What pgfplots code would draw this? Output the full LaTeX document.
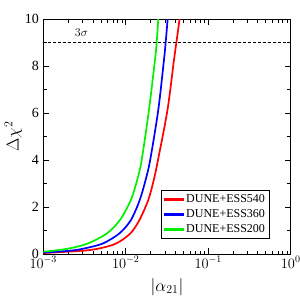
\documentclass[border=0pt]{standalone}
\usepackage{pgfplots}
\pgfplotsset{compat=1.18}
\usepackage{fontspec}
\setmainfont{Liberation Serif}
\definecolor{cred}{RGB}{255,0,0}
\definecolor{cblue}{RGB}{0,0,255}
\definecolor{cgreen}{RGB}{0,240,0}
\begin{document}
\begin{tikzpicture}
\useasboundingbox (-43.3pt,-46pt) rectangle (256.7pt,254pt);
\begin{axis}[
  at={(0,0)}, anchor=south west,
  width=247.4pt, height=234.7pt, scale only axis,
  xmode=log, xmin=1e-3, xmax=1, ymin=0, ymax=10,
  xtick={1e-3,1e-2,1e-1,1}, xticklabels={$10^{-3}$,$10^{-2}$,$10^{-1}$,$10^{0}$},
  ytick={0,2,4,6,8,10}, minor ytick={1,3,5,7,9},
  tick align=inside, xtick pos=both, ytick pos=both,
  major tick length=6pt, minor tick length=3.5pt,
  tick style={black, line width=0.8pt},
  axis line style={line width=0.9pt},
  tick label style={font=\fontsize{14}{14}\selectfont},
  /pgf/number format/assume math mode=true,
  xlabel={$|\alpha_{21}|$}, ylabel={$\Delta\chi^2$},
  label style={font=\fontsize{17}{17}\selectfont},
  xlabel style={yshift=-3pt},
  ylabel style={yshift=-4pt},
  xticklabel style={yshift=1pt},
  yticklabel style={xshift=-1pt},
  legend style={at={(rel axis cs:0.916,0.064)}, anchor=south east, line width=0.9pt,
    font=\fontsize{12}{14}\selectfont, inner sep=2.5pt, row sep=1.5pt},
  legend cell align=left,
]
\addlegendimage{legend image code/.code={\fill[cred] (0pt,-0.85pt) rectangle (19pt,0.85pt);}}
\addlegendentry{DUNE+ESS540}
\addlegendimage{legend image code/.code={\fill[cblue] (0pt,-0.85pt) rectangle (19pt,0.85pt);}}
\addlegendentry{DUNE+ESS360}
\addlegendimage{legend image code/.code={\fill[cgreen] (0pt,-0.85pt) rectangle (19pt,0.85pt);}}
\addlegendentry{DUNE+ESS200}
\addplot[draw=cred, line width=1.7pt, smooth, forget plot] coordinates {
(0.001,0.04) (0.003029,0.14) (0.004826,0.24) (0.00767,0.45) (0.01140,0.88) (0.01466,1.45) (0.01874,2.30) (0.02185,3.15) (0.02457,4.0) (0.03203,6.13) (0.03839,8.26) (0.04105,9) (0.04488,10) (0.04681,10.5)};
\addplot[draw=cblue, line width=1.7pt, smooth, forget plot] coordinates {
(0.001,0.06) (0.002107,0.14) (0.003175,0.24) (0.005293,0.45) (0.008387,0.88) (0.01156,1.45) (0.01478,2.30) (0.01738,3.15) (0.01976,4.0) (0.02477,6.13) (0.02904,8.26) (0.03045,9) (0.032205,10) (0.03311,10.5)};
\addplot[draw=cgreen, line width=1.7pt, smooth, forget plot] coordinates {
(0.001,0.10) (0.001311,0.14) (0.002089,0.24) (0.003482,0.45) (0.005917,0.88) (0.008506,1.45) (0.01153,2.30) (0.01375,3.15) (0.01559,4.0) (0.01910,6.13) (0.02259,8.26) (0.023686,9) (0.02477,10) (0.02533,10.5)};
\addplot[black, densely dashed, line width=0.9pt, forget plot] coordinates {(0.001,9) (1,9)};
\node[font=\fontsize{13}{13}\selectfont] at (axis cs:0.0029,9.45) {$3\sigma$};
\end{axis}
\end{tikzpicture}
\end{document}
